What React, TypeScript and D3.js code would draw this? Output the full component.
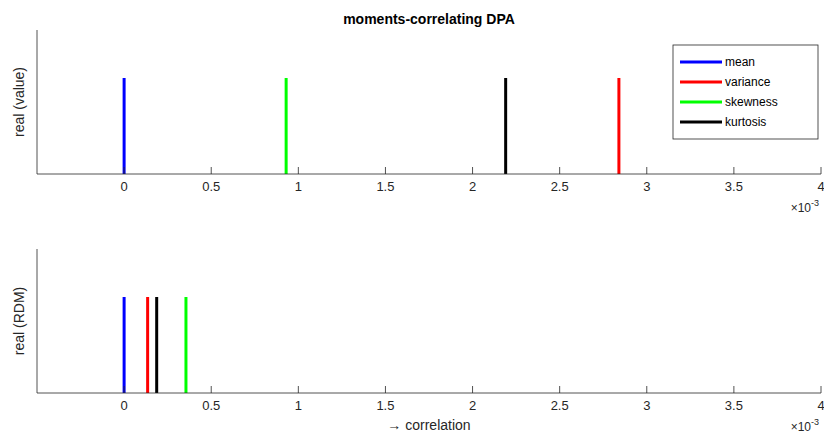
import React from "react";
import * as d3 from "d3";

const MOMENTS = ["mean", "variance", "skewness", "kurtosis"];
const COLORS = ["#0000ff", "#ff0000", "#00ff00", "#000000"];
const TOP_VALUES = [0, 2.84, 0.93, 2.19]; // x 1e-3
const BOTTOM_VALUES = [0, 0.135, 0.355, 0.187];
const TICKS = [0, 0.5, 1, 1.5, 2, 2.5, 3, 3.5, 4];

const W = 824, H = 446;
const X0 = 37, X1 = 821;
const font = "Liberation Sans, Arial, sans-serif";

function Panel({ top, bottom, values, label, xlabel }: { top: number; bottom: number; values: number[]; label: string; xlabel?: string }) {
  const x = d3.scaleLinear().domain([-0.5, 4]).range([X0, X1]);
  const y = d3.scaleLinear().domain([0, 1.5]).range([bottom, top]);
  return (
    <g>
      {values.map((v, i) => (
        <line key={i} x1={x(v)} x2={x(v)} y1={y(0)} y2={y(1)} stroke={COLORS[i]} strokeWidth={3} />
      ))}
      <line x1={X0} x2={X0} y1={top} y2={bottom} stroke="#262626" strokeWidth={0.8} />
      <line x1={X0} x2={X1} y1={bottom} y2={bottom} stroke="#262626" strokeWidth={0.8} />
      {TICKS.map((t) => (
        <g key={t}>
          <line x1={x(t)} x2={x(t)} y1={bottom} y2={bottom - 7} stroke="#262626" strokeWidth={0.8} />
          <text x={x(t)} y={bottom + 17} textAnchor="middle" fontSize={13} fill="#262626" fontFamily={font}>{t}</text>
        </g>
      ))}
      <text x={811} y={bottom + 38} textAnchor="end" fontSize={12} fill="#262626" fontFamily={font}>{"\u00d710"}</text>
      <text x={811} y={bottom + 32} fontSize={9} fill="#262626" fontFamily={font}>-3</text>
      <text transform={`translate(24,${(top + bottom) / 2}) rotate(-90)`} textAnchor="middle" fontSize={14} fill="#262626" fontFamily={font}>{label}</text>
      {xlabel && (
        <text x={(X0 + X1) / 2} y={bottom + 37} textAnchor="middle" fontSize={14} fill="#262626" fontFamily={font}>{xlabel}</text>
      )}
    </g>
  );
}

export default function App() {
  return (
    <svg width={W} height={H} style={{ position: "absolute", left: 0, top: 0, background: "#fff" }}>
      <rect width={W} height={H} fill="#fff" />
      <text x={429} y={24} textAnchor="middle" fontSize={14} fontWeight="bold" fill="#000" fontFamily={font}>moments-correlating DPA</text>
      <Panel top={30} bottom={174} values={TOP_VALUES} label="real (value)" />
      <Panel top={249} bottom={393} values={BOTTOM_VALUES} label="real (RDM)" xlabel={"\u2192 correlation"} />
      <g>
        <rect x={673} y={45} width={145} height={94} fill="#fff" stroke="#262626" strokeWidth={0.8} />
        {MOMENTS.map((m, i) => (
          <g key={m}>
            <line x1={680} x2={722} y1={62 + i * 20} y2={62 + i * 20} stroke={COLORS[i]} strokeWidth={3} />
            <text x={725} y={66 + i * 20} fontSize={12} fill="#000" fontFamily={font}>{m}</text>
          </g>
        ))}
      </g>
    </svg>
  );
}
